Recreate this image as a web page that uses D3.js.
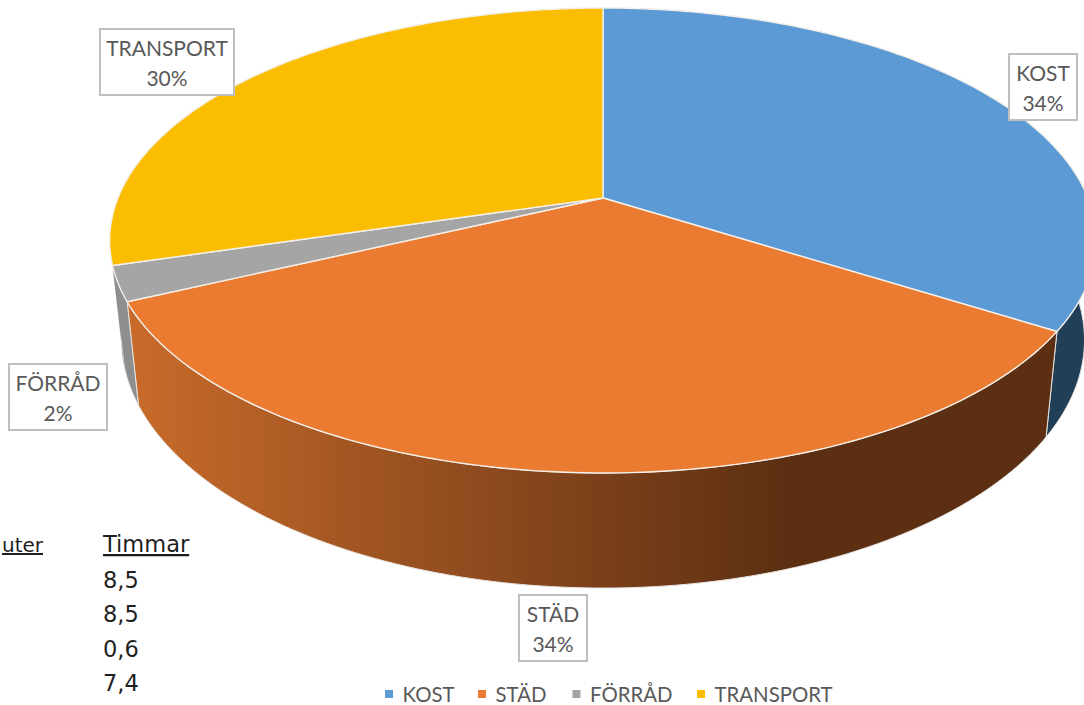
<!DOCTYPE html>
<html>
<head>
<meta charset="utf-8">
<script src="https://d3js.org/d3.v7.min.js"></script>
<style>
  html, body { margin: 0; padding: 0; background: #fff; overflow: hidden; }
  svg { display: block; }
</style>
</head>
<body>
<svg id="chart" width="1084" height="705"></svg>
<script>
// data
var categories = ["KOST", "STÄD", "FÖRRÅD", "TRANSPORT"];
var hours = [8.5, 8.5, 0.6, 7.4];
var hourLabels = ["8,5", "8,5", "0,6", "7,4"];
var topColors = ["#5b9ad5", "#ea7b31", "#a5a5a5", "#fabd00"];
// the transport wall never shows in the reference, the grey one runs up to its edge
var sideColors = ["#223f58", "url(#stadSide)", "#8e8e8e", "#8e8e8e"];

var svg = d3.select("#chart");
var defs = svg.append("defs");

var stadGrad = defs.append("linearGradient")
    .attr("id", "stadSide")
    .attr("gradientUnits", "userSpaceOnUse")
    .attr("x1", 137).attr("x2", 790).attr("y1", 0).attr("y2", 0);
stadGrad.append("stop").attr("offset", "0%").attr("stop-color", "#c76a2a");
stadGrad.append("stop").attr("offset", "45%").attr("stop-color", "#964f20");
stadGrad.append("stop").attr("offset", "100%").attr("stop-color", "#5c2f12");

// perspective projection of the pie disc, u = right, v = towards viewer
var cx = 603, persp = 0.1828;
var topDisc = { a: 485, b: 224.7, y0: 198 };
var baseDisc = { a: 473.4, b: 239.8, y0: 294.6 };

function project(disc, angle, r) {
    var u = Math.sin(angle) * r, v = -Math.cos(angle) * r;
    var s = 1 / (1 - persp * v);
    return [cx + disc.a * u * s, disc.y0 + disc.b * v * s];
}

function rim(disc, a0, a1) {
    var n = Math.max(2, Math.ceil(Math.abs(a1 - a0) / 0.02));
    return d3.range(n + 1).map(function (i) {
        return project(disc, a0 + (a1 - a0) * i / n, 1);
    });
}

var line = d3.line();
var arcs = d3.pie().sort(null)(hours);
var total = d3.sum(hours);

var pie = svg.append("g");

// walls first, the top surface paints over whatever is behind it
pie.append("g")
    .selectAll("path")
    .data(arcs)
    .enter().append("path")
    .attr("d", function (d) {
        return line(rim(topDisc, d.startAngle, d.endAngle)
            .concat(rim(baseDisc, d.endAngle, d.startAngle))) + "Z";
    })
    .attr("fill", function (d, i) { return sideColors[i]; })
    .attr("stroke", function (d, i) { return i == 3 ? "none" : "#e8e4e0"; })
    .attr("stroke-width", 1);

pie.append("g")
    .selectAll("path")
    .data(arcs)
    .enter().append("path")
    .attr("d", function (d) {
        return line([project(topDisc, 0, 0)].concat(rim(topDisc, d.startAngle, d.endAngle))) + "Z";
    })
    .attr("fill", function (d, i) { return topColors[i]; })
    .attr("stroke", "#f4efe9")
    .attr("stroke-width", 1.4)
    .attr("stroke-linejoin", "round");

// data labels
var labelBoxes = [
    { x: 1009, y: 54, w: 68, h: 66 },
    { x: 519, y: 595, w: 68, h: 66 },
    { x: 9, y: 364, w: 98, h: 66 },
    { x: 100, y: 29, w: 134, h: 66 }
];

var label = svg.append("g")
    .selectAll("g")
    .data(categories)
    .enter().append("g")
    .attr("transform", function (d, i) { return "translate(" + labelBoxes[i].x + "," + labelBoxes[i].y + ")"; });

label.append("rect")
    .attr("width", function (d, i) { return labelBoxes[i].w; })
    .attr("height", function (d, i) { return labelBoxes[i].h; })
    .attr("fill", "#fff")
    .attr("stroke", "#bfbfbf")
    .attr("stroke-width", 2);

label.append("text")
    .attr("x", function (d, i) { return labelBoxes[i].w / 2; })
    .attr("y", 27)
    .attr("text-anchor", "middle")
    .attr("font-family", "Lato")
    .attr("font-size", 21)
    .attr("fill", "#595959")
    .text(function (d) { return d; });

label.append("text")
    .attr("x", function (d, i) { return labelBoxes[i].w / 2; })
    .attr("y", 57)
    .attr("text-anchor", "middle")
    .attr("font-family", "Lato")
    .attr("font-size", 21)
    .attr("fill", "#595959")
    .text(function (d, i) { return d3.format(".0%")(hours[i] / total); });

// legend
var legendX = [385, 478, 572.5, 697];

var legend = svg.append("g")
    .selectAll("g")
    .data(categories)
    .enter().append("g")
    .attr("transform", function (d, i) { return "translate(" + legendX[i] + ",694)"; });

legend.append("rect")
    .attr("y", -4)
    .attr("width", 8)
    .attr("height", 8)
    .attr("fill", function (d, i) { return topColors[i]; });

legend.append("text")
    .attr("x", 17.5)
    .attr("y", 8)
    .attr("font-family", "Lato")
    .attr("font-size", 20.4)
    .attr("fill", "#595959")
    .text(function (d) { return d; });

// worksheet cells showing behind the chart
var cells = svg.append("g")
    .attr("font-family", "DejaVu Sans")
    .attr("font-size", 22.5)
    .attr("fill", "#1f1f1f");

// a little smaller than its neighbours so it stays inside the left edge
cells.append("text")
    .attr("x", 43).attr("y", 552)
    .attr("text-anchor", "end")
    .attr("font-size", 20)
    .attr("text-decoration", "underline")
    .text("uter");

cells.append("text")
    .attr("x", 103).attr("y", 552)
    .attr("text-decoration", "underline")
    .text("Timmar");

cells.selectAll("text.cell")
    .data(hourLabels)
    .enter().append("text")
    .attr("class", "cell")
    .attr("x", 103)
    .attr("y", function (d, i) { return 588 + i * 34.4; })
    .text(function (d) { return d; });
</script>
</body>
</html>
